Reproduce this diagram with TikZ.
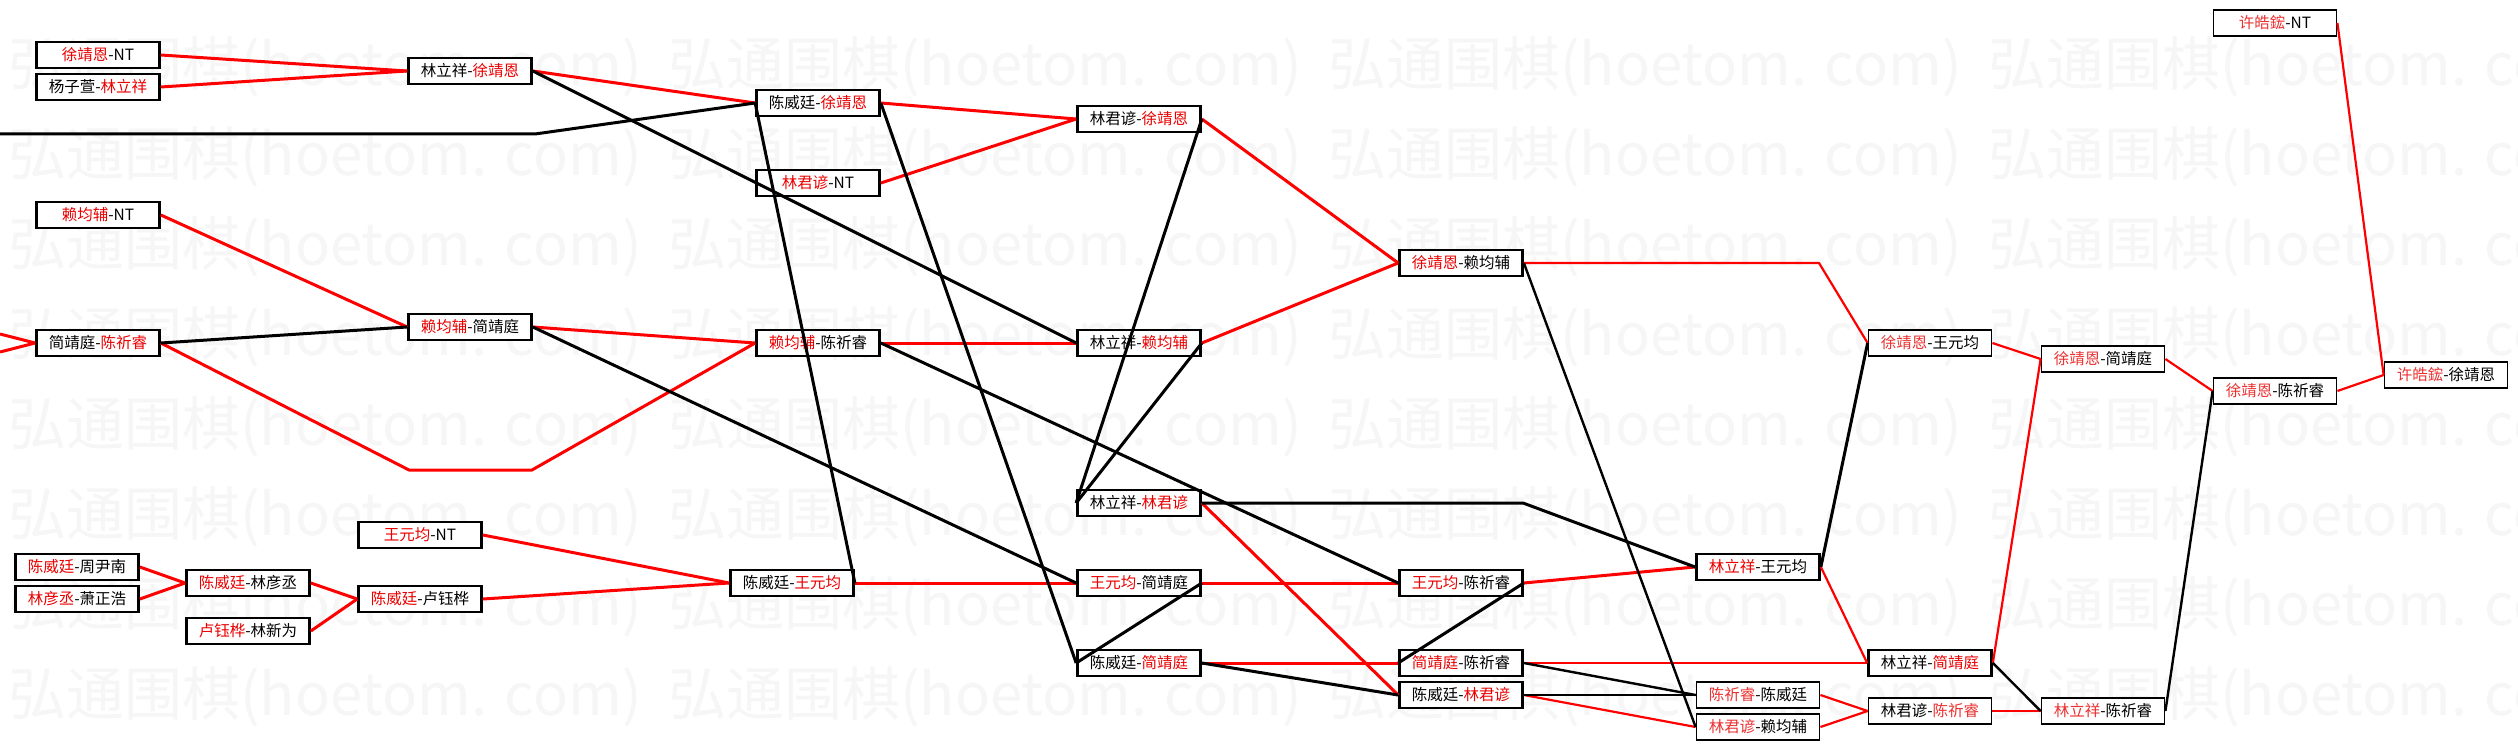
\documentclass[tikz,border=0pt]{standalone}
\usepackage{fontspec}
\setmainfont{Noto Sans CJK SC}
\newfontfamily\wmfont{Noto Sans CJK SC}
\definecolor{wr}{RGB}{235,0,0}
\definecolor{lr}{RGB}{235,50,50}
\definecolor{wmc}{RGB}{246,246,246}
\newcommand\Rd[1]{\textcolor{wr}{#1}}
\newcommand\Rl[1]{\textcolor{lr}{#1}}
\tikzset{
  mbox/.style={draw=black, line width=2.7pt, fill=white, minimum width=123pt,
    minimum height=26pt, inner sep=0pt, font=\fontsize{15.5}{15.5}\selectfont},
  tbox/.style={mbox, line width=1.8pt},
  rl/.style={draw=red, line width=3pt, line join=round},
  bl/.style={draw=black, line width=3pt, line join=round},
  rlt/.style={draw=red, line width=2.2pt, line join=round},
  blt/.style={draw=black, line width=2.4pt, line join=round},
  wmark/.style={anchor=west, text=wmc, font=\wmfont\fontsize{58}{58}\selectfont, inner sep=0pt}
}
\begin{document}
\begin{tikzpicture}[x=1pt,y=-1pt]
\clip (0,0) rectangle (2518,749);
\fill[white] (0,0) rectangle (2518,749);
% watermark
\foreach \yy in {67,157,247,337,427,517,607,697}{
  \foreach \xx in {8,668,1328,1988}{
    \node[wmark] (wm-\xx-\yy) at (\xx,\yy) {弘通围棋(hoetom. com)};
  }
}
% nodes
\node[mbox] (a1) at (98,55) {\Rd{徐靖恩}-NT};
\node[mbox] (a2) at (98,87) {杨子萱-\Rd{林立祥}};
\node[mbox] (a3) at (98,215) {\Rd{赖均辅}-NT};
\node[mbox] (a4) at (98,343) {简靖庭-\Rd{陈祈睿}};
\node[mbox] (a5) at (77,567) {\Rd{陈威廷}-周尹南};
\node[mbox] (a6) at (77,599) {\Rd{林彦丞}-萧正浩};
\node[mbox] (b1) at (248,583) {\Rd{陈威廷}-林彦丞};
\node[mbox] (b2) at (248,631) {\Rd{卢钰桦}-林新为};
\node[mbox] (c1) at (420,535) {\Rd{王元均}-NT};
\node[mbox] (c2) at (420,599) {\Rd{陈威廷}-卢钰桦};
\node[mbox] (d1) at (470,71) {林立祥-\Rd{徐靖恩}};
\node[mbox] (d2) at (470,327) {\Rd{赖均辅}-简靖庭};
\node[mbox] (e1) at (818,103) {陈威廷-\Rd{徐靖恩}};
\node[mbox] (e2) at (818,183) {\Rd{林君谚}-NT};
\node[mbox] (e3) at (818,343) {\Rd{赖均辅}-陈祈睿};
\node[mbox] (e4) at (792,583) {陈威廷-\Rd{王元均}};
\node[mbox] (f1) at (1139,119) {林君谚-\Rd{徐靖恩}};
\node[mbox] (f2) at (1139,343) {林立祥-\Rd{赖均辅}};
\node[mbox] (f3) at (1139,503) {林立祥-\Rd{林君谚}};
\node[mbox] (f4) at (1139,583) {\Rd{王元均}-简靖庭};
\node[mbox] (f5) at (1139,663) {陈威廷-\Rd{简靖庭}};
\node[mbox] (g1) at (1461,263) {\Rd{徐靖恩}-赖均辅};
\node[mbox] (g2) at (1461,583) {\Rd{王元均}-陈祈睿};
\node[mbox] (g3) at (1461,663) {\Rd{简靖庭}-陈祈睿};
\node[mbox] (g4) at (1461,695) {陈威廷-\Rd{林君谚}};
\node[mbox] (h1) at (1758,567) {\Rd{林立祥}-王元均};
\node[tbox] (h2) at (1758,695) {\Rl{陈祈睿}-陈威廷};
\node[tbox] (h3) at (1758,727) {\Rl{林君谚}-赖均辅};
\node[tbox] (i1) at (1930,343) {\Rl{徐靖恩}-王元均};
\node[mbox] (i2) at (1930,663) {林立祥-\Rd{简靖庭}};
\node[tbox] (i3) at (1930,711) {林君谚-\Rl{陈祈睿}};
\node[tbox] (j1) at (2103,359) {\Rl{徐靖恩}-简靖庭};
\node[tbox] (j2) at (2103,711) {\Rl{林立祥}-陈祈睿};
\node[tbox] (k1) at (2275,391) {\Rl{徐靖恩}-陈祈睿};
\node[tbox] (k2) at (2275,23) {\Rl{许皓鋐}-NT};
\node[tbox] (m1) at (2446,375) {\Rl{许皓鋐}-徐靖恩};
% free ends and bends
\coordinate (L1) at (0,134);
\coordinate (L1b) at (535,134);
\coordinate (L2) at (0,334);
\coordinate (L3) at (0,352);
\coordinate (P1) at (409,470);
\coordinate (P2) at (532,470);
\coordinate (P3) at (1819,263);
\coordinate (P4) at (1523,503);
% red connectors
\draw[rl] (L2) -- (a4.west);
\draw[rl] (L3) -- (a4.west);
\draw[rl] (a1.east) -- (d1.west);
\draw[rl] (a2.east) -- (d1.west);
\draw[rl] (a3.east) -- (d2.west);
\draw[rl] (d1.east) -- (e1.west);
\draw[rl] (d2.east) -- (e3.west);
\draw[rl] (a4.east) -- (P1) -- (P2) -- (e3.west);
\draw[rl] (a5.east) -- (b1.west);
\draw[rl] (a6.east) -- (b1.west);
\draw[rl] (b1.east) -- (c2.west);
\draw[rl] (b2.east) -- (c2.west);
\draw[rl] (c1.east) -- (e4.west);
\draw[rl] (c2.east) -- (e4.west);
\draw[rl] (e1.east) -- (f1.west);
\draw[rl] (e2.east) -- (f1.west);
\draw[rl] (e3.east) -- (f2.west);
\draw[rl] (e4.east) -- (f4.west);
\draw[rl] (f1.east) -- (g1.west);
\draw[rl] (f2.east) -- (g1.west);
\draw[rl] (f3.east) -- (g4.west);
\draw[rl] (f4.east) -- (g2.west);
\draw[rl] (f5.east) -- (g3.west);
\draw[rlt] (g1.east) -- (P3) -- (i1.west);
\draw[rl] (g2.east) -- (h1.west);
\draw[rlt] (g3.east) -- (i2.west);
\draw[rlt] (g4.east) -- (h3.west);
\draw[rlt] (h1.east) -- (i2.west);
\draw[rlt] (h2.east) -- (i3.west);
\draw[rlt] (h3.east) -- (i3.west);
\draw[rlt] (i1.east) -- (j1.west);
\draw[rlt] (i2.east) -- (j1.west);
\draw[rlt] (i3.east) -- (j2.west);
\draw[rlt] (j1.east) -- (k1.west);
\draw[rlt] (k1.east) -- (m1.west);
\draw[rlt] (k2.east) -- (m1.west);
% black connectors
\draw[bl] (L1) -- (L1b) -- (e1.west);
\draw[bl] (d1.east) -- (f2.west);
\draw[bl] (a4.east) -- (d2.west);
\draw[bl] (d2.east) -- (f4.west);
\draw[bl] (e4.east) -- (e1.west);
\draw[bl] (e1.east) -- (f5.west);
\draw[bl] (e3.east) -- (g2.west);
\draw[bl] (f1.east) -- (f3.west);
\draw[bl] (f2.east) -- (f3.west);
\draw[bl] (f4.east) -- (f5.west);
\draw[bl] (f3.east) -- (P4) -- (h1.west);
\draw[bl] (f5.east) -- (g4.west);
\draw[bl] (g2.east) -- (g3.west);
\draw[blt] (g1.east) -- (h3.west);
\draw[blt] (g3.east) -- (h2.west);
\draw[blt] (g4.east) -- (h2.west);
\draw[bl] (h1.east) -- (i1.west);
\draw[blt] (i2.east) -- (j2.west);
\draw[blt] (j2.east) -- (k1.west);
\end{tikzpicture}
\end{document}
